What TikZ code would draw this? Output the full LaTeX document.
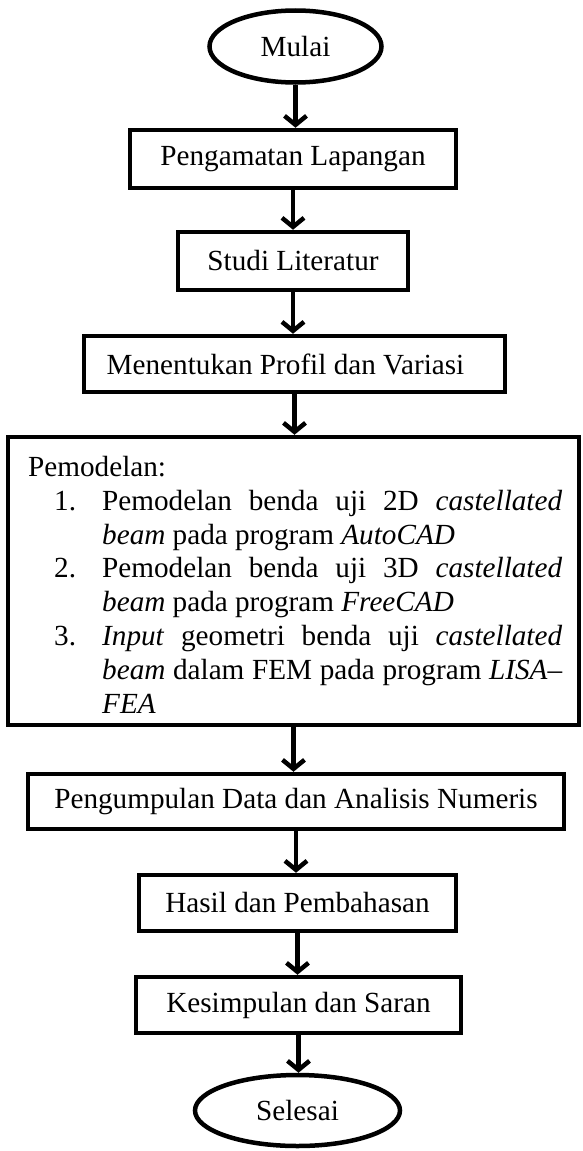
\documentclass[tikz,border=0pt]{standalone}
\usepackage{fontspec}
\setmainfont{Liberation Serif}
\usetikzlibrary{shapes.geometric,arrows.meta}
\newcommand\mysize{\fontsize{29.2}{33.8}\selectfont}
\begin{document}
\begin{tikzpicture}[x=1pt,y=-1pt,
  box/.style={draw,line width=4.5pt,rectangle,inner sep=0pt,font=\mysize},
  term/.style={draw,line width=4.5pt,ellipse,inner sep=0pt,font=\mysize},
  flow/.style={line width=4.5pt,-{Straight Barb[length=9pt,width=22pt,line width=4.5pt]}}
]
\useasboundingbox (0,0) rectangle (582,1151);
\node[term,minimum width=172pt,minimum height=72pt] (start) at (295.5,46.5) {Mulai};
\node[box,minimum width=326pt,minimum height=58pt] (b1) at (293,159) {Pengamatan Lapangan};
\node[box,minimum width=230pt,minimum height=58pt] (b2) at (293,261) {Studi Literatur};
\node[box,minimum width=421pt,minimum height=56pt] (b3) at (294.5,364) {Menentukan Profil dan Variasi\hspace*{18pt}};
\node[box,minimum width=571pt,minimum height=288pt] (b4) at (293.5,581) {};
\node[anchor=north west,inner sep=0pt,text width=534pt,align=justify,font=\mysize] (b4text) at (28,456) {%
\noindent Pemodelan:\par
{\leftskip=74pt \noindent\llap{\makebox[48pt][l]{1.}}Pemodelan benda uji 2D \textit{castellated}\linebreak \textit{beam} pada program \textit{AutoCAD}\par}
{\leftskip=74pt \noindent\llap{\makebox[48pt][l]{2.}}Pemodelan benda uji 3D \textit{castellated}\linebreak \textit{beam} pada program \textit{FreeCAD}\par}
{\leftskip=74pt \noindent\llap{\makebox[48pt][l]{3.}}\textit{Input} geometri benda uji \textit{castellated}\linebreak \textit{beam} dalam FEM pada program \textit{LISA}–\linebreak \textit{FEA}\par}};
\node[box,minimum width=536pt,minimum height=55pt] (b5) at (296,801.5) {Pengumpulan Data dan Analisis Numeris};
\node[box,minimum width=317pt,minimum height=56pt] (b6) at (297.5,903) {Hasil dan Pembahasan};
\node[box,minimum width=325pt,minimum height=56pt] (b7) at (298.5,1005) {Kesimpulan dan Saran};
\node[term,minimum width=205pt,minimum height=71pt] (stop) at (297.5,1110.5) {Selesai};
\draw[flow] (start.south) -- (start.south |- b1.north);
\draw[flow] (b1.south) -- (b1.south |- b2.north);
\draw[flow] (b2.south) -- (b2.south |- b3.north);
\draw[flow] (b3.south) -- (b3.south |- b4.north);
\draw[flow] (b4.south) -- (b4.south |- b5.north);
\draw[flow] (b5.south) -- (b5.south |- b6.north);
\draw[flow] (b6.south) -- (b6.south |- b7.north);
\draw[flow] (b7.south) -- (b7.south |- stop.north);
\end{tikzpicture}
\end{document}
